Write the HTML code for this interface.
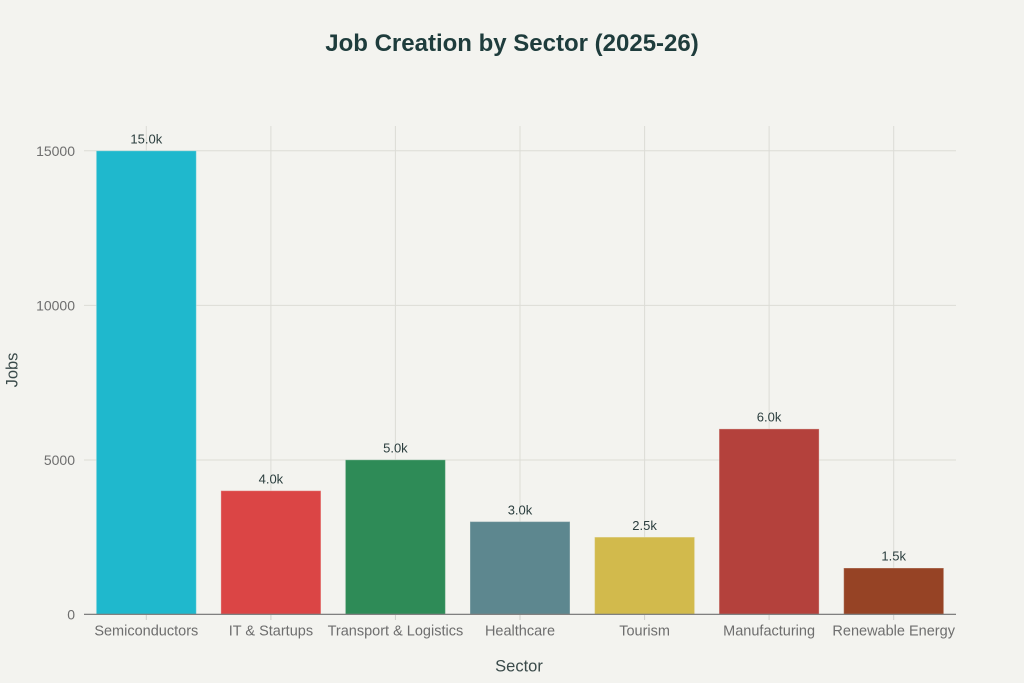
<!DOCTYPE html>
<html><head><meta charset="utf-8"><style>
html,body{margin:0;padding:0;background:#f3f3ef;}
svg{display:block;font-family:"Liberation Sans",sans-serif;}
</style></head><body>
<svg width="1024" height="683" viewBox="0 0 1024 683" xmlns="http://www.w3.org/2000/svg">
<rect width="1024" height="683" fill="#f3f3ef"/>
<text x="512" y="51" text-anchor="middle" font-size="24" font-weight="bold" fill="#1e3c3c">Job Creation by Sector (2025-26)</text>
<g stroke="#dcdcd6" stroke-width="1">
<line x1="84" y1="460" x2="956" y2="460"/>
<line x1="84" y1="305.4" x2="956" y2="305.4"/>
<line x1="84" y1="150.8" x2="956" y2="150.8"/>
<line x1="146.3" y1="126" x2="146.3" y2="614"/>
<line x1="270.9" y1="126" x2="270.9" y2="614"/>
<line x1="395.4" y1="126" x2="395.4" y2="614"/>
<line x1="520" y1="126" x2="520" y2="614"/>
<line x1="644.6" y1="126" x2="644.6" y2="614"/>
<line x1="769.1" y1="126" x2="769.1" y2="614"/>
<line x1="893.7" y1="126" x2="893.7" y2="614"/>
</g>
<g stroke-width="1" stroke="#f3f3ef" stroke-opacity="0.35">
<rect x="96.3" y="150.8" width="100" height="463.5" fill="#1fb8cd"/>
<rect x="220.9" y="490.7" width="100" height="123.6" fill="#db4545"/>
<rect x="345.4" y="459.8" width="100" height="154.5" fill="#2e8b57"/>
<rect x="470" y="521.6" width="100" height="92.7" fill="#5d878f"/>
<rect x="594.6" y="537.1" width="100" height="77.2" fill="#d2ba4c"/>
<rect x="719.1" y="428.9" width="100" height="185.4" fill="#b4413c"/>
<rect x="843.7" y="568" width="100" height="46.3" fill="#964325"/>
</g>
<line x1="84" y1="614.3" x2="956" y2="614.3" stroke="#707070" stroke-width="1.2"/>
<g stroke="#cfcfca" stroke-width="1">
<line x1="146.3" y1="615" x2="146.3" y2="620"/>
<line x1="270.9" y1="615" x2="270.9" y2="620"/>
<line x1="395.4" y1="615" x2="395.4" y2="620"/>
<line x1="520" y1="615" x2="520" y2="620"/>
<line x1="644.6" y1="615" x2="644.6" y2="620"/>
<line x1="769.1" y1="615" x2="769.1" y2="620"/>
<line x1="893.7" y1="615" x2="893.7" y2="620"/>
</g>
<g font-size="13" fill="#2b3e3e" text-anchor="middle">
<text x="146.3" y="143.5">15.0k</text>
<text x="270.9" y="483.5">4.0k</text>
<text x="395.4" y="452.5">5.0k</text>
<text x="520" y="514.3">3.0k</text>
<text x="644.6" y="529.8">2.5k</text>
<text x="769.1" y="421.6">6.0k</text>
<text x="893.7" y="560.7">1.5k</text>
</g>
<g font-size="14" fill="#6e6e6e" text-anchor="end">
<text x="75" y="155.8">15000</text>
<text x="75" y="310.4">10000</text>
<text x="75" y="465">5000</text>
<text x="75" y="619.3">0</text>
</g>
<g font-size="14.5" fill="#6e6e6e" text-anchor="middle">
<text x="146.3" y="635.7">Semiconductors</text>
<text x="270.9" y="635.7">IT &amp; Startups</text>
<text x="395.4" y="635.7">Transport &amp; Logistics</text>
<text x="520" y="635.7">Healthcare</text>
<text x="644.6" y="635.7">Tourism</text>
<text x="769.1" y="635.7">Manufacturing</text>
<text x="893.7" y="635.7">Renewable Energy</text>
</g>
<text x="519" y="671.5" font-size="16.5" fill="#3a4a4a" text-anchor="middle">Sector</text>
<text transform="translate(17.5,370) rotate(-90)" font-size="16.5" fill="#3a4a4a" text-anchor="middle">Jobs</text>
</svg>
</body></html>
